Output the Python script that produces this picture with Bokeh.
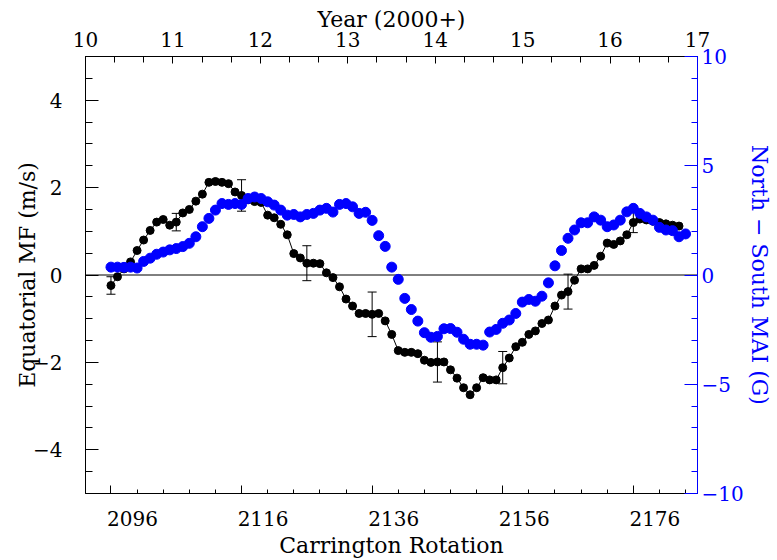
from bokeh.plotting import figure
from bokeh.models import (Range1d, LinearAxis, FixedTicker, Whisker, TeeHead,
                          ColumnDataSource, Span, CustomJSTickFormatter)
from bokeh.embed import file_html
from bokeh.resources import INLINE

# ---------------- data ----------------
cr_mf = list(range(2096, 2184))
mf = [-0.24, -0.04, 0.14, 0.30, 0.56, 0.80, 1.02, 1.21, 1.27, 1.14,
      1.21, 1.42, 1.50, 1.69, 1.85, 2.12, 2.14, 2.12, 2.09, 1.90,
      1.82, 1.72, 1.68, 1.66, 1.37, 1.31, 1.16, 0.92, 0.49, 0.39,
      0.27, 0.27, 0.26, 0.05, -0.06, -0.27, -0.55, -0.71, -0.88, -0.88,
      -0.90, -0.88, -1.05, -1.36, -1.73, -1.77, -1.77, -1.80, -1.95, -2.00,
      -1.99, -1.99, -2.17, -2.36, -2.58, -2.74, -2.58, -2.35, -2.40, -2.40,
      -2.12, -1.90, -1.64, -1.54, -1.36, -1.28, -1.11, -1.03, -0.71, -0.46,
      -0.38, -0.12, 0.14, 0.14, 0.22, 0.43, 0.73, 0.70, 0.78, 0.92,
      1.20, 1.28, 1.26, 1.23, 1.20, 1.17, 1.14, 1.12]

cr_mai = list(range(2096, 2185))
mai = [0.36, 0.36, 0.35, 0.36, 0.32, 0.62, 0.77, 0.95, 1.05, 1.15,
       1.21, 1.30, 1.45, 1.75, 2.21, 2.59, 2.97, 3.27, 3.23, 3.27,
       3.23, 3.50, 3.57, 3.50, 3.35, 3.20, 2.97, 2.74, 2.77, 2.66,
       2.77, 2.82, 2.97, 3.05, 2.88, 3.23, 3.27, 3.12, 2.82, 2.87,
       2.50, 1.80, 1.31, 0.36, -0.20, -1.07, -1.58, -2.11, -2.64, -2.85,
       -2.81, -2.46, -2.45, -2.62, -2.94, -3.17, -3.17, -3.21, -2.61, -2.49,
       -2.21, -2.06, -1.76, -1.24, -1.12, -1.20, -0.97, -0.36, 0.42, 1.12,
       1.68, 2.06, 2.39, 2.39, 2.66, 2.51, 2.21, 2.29, 2.51, 2.89,
       3.05, 2.82, 2.66, 2.51, 2.18, 2.06, 2.03, 1.75, 1.88]

err_cr = [2096, 2106, 2116, 2126, 2136, 2146, 2156, 2166, 2176]
err_sigma = [0.20, 0.20, 0.36, 0.40, 0.51, 0.46, 0.37, 0.40, 0.23]

cr_major = [2096, 2116, 2136, 2156, 2176]
cr_minor = [2092, 2100, 2104, 2108, 2112, 2120, 2124, 2128, 2132, 2140, 2144,
            2148, 2152, 2160, 2164, 2168, 2172, 2180, 2184]
year_major = [10, 11, 12, 13, 14, 15, 16, 17]
year_minor = [10 + k / 3.0 for k in range(22)]
mf_major = [-4, -2, 0, 2, 4]
mf_minor = [-5 + 0.5 * k for k in range(21)]
mai_major = [-10, -5, 0, 5, 10]
mai_minor = list(range(-10, 11))

CR_START, CR_END = 2092.1, 2185.83
YEAR_START, YEAR_END = 10, 17
LABEL_SHIFT = 3.3

FONT = "DejaVu Serif"
BLUE = "#0000ff"

# ---------------- figure ----------------
p = figure(width=777, height=560, output_backend="svg", toolbar_location=None,
           x_range=Range1d(CR_START, CR_END), y_range=Range1d(-5, 5),
           x_axis_location=None, y_axis_location=None,
           min_border_left=85, min_border_right=80, min_border_top=56,
           min_border_bottom=66)
p.grid.visible = False
p.outline_line_color = "black"
p.outline_line_width = 1
p.background_fill_color = "white"
p.border_fill_color = "white"

p.extra_x_ranges = {"year": Range1d(YEAR_START, YEAR_END),
                    "crlab": Range1d(CR_START - LABEL_SHIFT, CR_END - LABEL_SHIFT)}
p.extra_y_ranges = {"mai": Range1d(-10, 10)}

minus_fmt = "return (tick < 0 ? '\u2212' : '') + Math.abs(tick);"


def style(ax, color="black"):
    ax.axis_line_color = color
    ax.axis_line_width = 1
    ax.major_tick_line_color = color
    ax.minor_tick_line_color = color
    ax.major_label_text_color = color
    ax.axis_label_text_color = color
    ax.major_label_text_font = FONT
    ax.axis_label_text_font = FONT
    ax.major_label_text_font_size = "20px"
    ax.axis_label_text_font_size = "22px"
    ax.axis_label_text_font_style = "normal"
    ax.major_tick_out = 0
    ax.minor_tick_out = 0


left = LinearAxis(ticker=FixedTicker(ticks=mf_major, minor_ticks=mf_minor),
                  formatter=CustomJSTickFormatter(code=minus_fmt),
                  axis_label="Equatorial MF (m/s)")
style(left)
left.major_tick_in = 13
left.minor_tick_in = 7
left.major_label_standoff = 23
left.axis_label_standoff = -10
p.add_layout(left, "left")

right = LinearAxis(y_range_name="mai",
                   ticker=FixedTicker(ticks=mai_major, minor_ticks=mai_minor),
                   formatter=CustomJSTickFormatter(code=minus_fmt),
                   axis_label="North \u2212 South MAI (G)")
style(right, BLUE)
right.major_tick_in = 13
right.minor_tick_in = 6
right.major_label_standoff = 4
right.axis_label_standoff = 0
p.add_layout(right, "right")

top = LinearAxis(x_range_name="year",
                 ticker=FixedTicker(ticks=year_major, minor_ticks=year_minor),
                 axis_label="Year (2000+)")
style(top)
top.major_tick_in = 7
top.minor_tick_in = 6
top.major_label_standoff = 10
top.axis_label_standoff = -3
p.add_layout(top, "above")

# bottom: tick marks at the frame edge, labels on a second (shifted) axis
btick = LinearAxis(ticker=FixedTicker(ticks=cr_major, minor_ticks=cr_minor),
                   formatter=CustomJSTickFormatter(code="return '';"),
                   fixed_location=-5)
style(btick)
btick.major_tick_in = 8
btick.minor_tick_in = 4
p.add_layout(btick, "below")

blab = LinearAxis(x_range_name="crlab",
                  ticker=FixedTicker(ticks=cr_major, minor_ticks=[]),
                  axis_label="Carrington Rotation")
style(blab)
blab.axis_line_color = None
blab.major_tick_line_color = None
blab.minor_tick_line_color = None
blab.major_tick_in = 0
blab.major_label_standoff = 17
blab.axis_label_standoff = 4
p.add_layout(blab, "below")

# zero line
p.add_layout(Span(location=0, dimension="width", line_color="black",
                  line_width=1, level="underlay"))

# black series
p.line(cr_mf, mf, line_color="black", line_width=1)
p.scatter(cr_mf, mf, size=8, fill_color="black", line_color="black")

# error bars
err_val = [mf[cr_mf.index(c)] for c in err_cr]
src_err = ColumnDataSource(dict(base=err_cr,
                                upper=[v + s for v, s in zip(err_val, err_sigma)],
                                lower=[v - s for v, s in zip(err_val, err_sigma)]))
p.add_layout(Whisker(base="base", upper="upper", lower="lower", source=src_err,
                     line_color="black", line_width=1,
                     upper_head=TeeHead(size=9, line_color="black", line_width=1),
                     lower_head=TeeHead(size=9, line_color="black", line_width=1)))

# blue series
p.scatter(cr_mai, mai, y_range_name="mai", size=10, fill_color=BLUE,
          line_color=BLUE)

open("out.html", "w").write(file_html(p, INLINE))
